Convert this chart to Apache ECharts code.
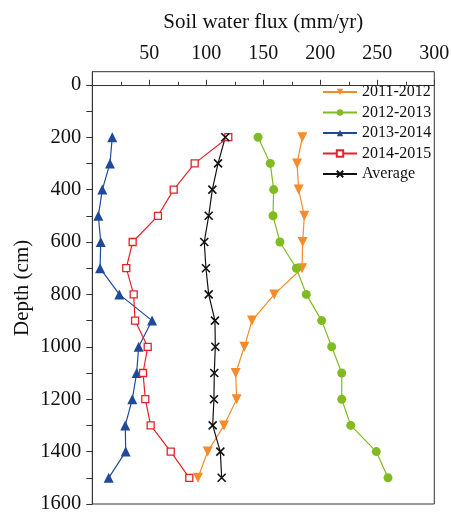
<!DOCTYPE html>
<html><head><meta charset="utf-8">
<script src="https://cdn.jsdelivr.net/npm/echarts@6/dist/echarts.min.js"></script>
<style>html,body{margin:0;padding:0;background:#fff}#c{width:451px;height:512px}</style>
</head><body><div id="c"></div>
<script>
const depths = [200,300,400,500,600,700,800,900,1000,1100,1200,1300,1400,1500];
const s2011 = [184.2,179.6,181.0,186.0,184.5,184.0,159.6,140.1,133.4,125.8,126.6,115.5,101.2,92.7];
const s2012 = [145.4,156.1,159.1,158.5,164.6,179.0,187.7,201.2,210.0,218.8,218.8,226.7,249.1,259.4];
const s2013 = [17.5,15.5,8.8,5.3,7.4,6.8,23.7,52.4,40.7,38.9,35.1,28.9,29.3,14.4];
const s2014 = [119.3,89.8,71.4,57.6,35.4,29.8,36.3,37.5,48.6,44.5,46.5,51.2,68.8,85.1];
const sAvg = [116.7,110.3,105.3,102.1,98.2,99.7,102.1,107.6,107.9,107.0,106.7,105.6,112.3,113.5];
const seriesNames = ['2011-2012','2012-2013','2013-2014','2014-2015','Average'];
const yTickValues = [0,100,200,300,400,500,600,700,800,900,1000,1100,1200,1300,1400,1500,1600];
const yLabelValues = [0,200,400,600,800,1000,1200,1400,1600];

const FONT = "'Liberation Serif','Times New Roman',serif";
const pair = arr => arr.map((v,i)=>[v, depths[i]]);
const crossPath = 'path://M0,0 L2,2 M2,0 L0,2';
const chart = echarts.init(document.getElementById('c'));
const mk = (name, data, color, symbol, size, extra) => Object.assign({
  name, type:'line', data: pair(data), symbol, symbolSize:size,
  lineStyle:{color, width:1.2}, itemStyle:{color}, z:3
}, extra||{});
chart.setOption({
  animation:false,
  textStyle:{fontFamily:FONT},
  grid:{left:92.3, right:16.7, top:71.7, bottom:8, show:true, borderColor:'#333', borderWidth:1,
    containLabel:false, outerBoundsMode:'none'},
  legend:{
    orient:'vertical', left:317, top:79, itemWidth:34, itemHeight:8, itemGap:4.5,
    textStyle:{fontFamily:FONT, fontSize:16, color:'#111'},
    data: seriesNames
  },
  xAxis:{
    type:'value', position:'top', min:0, max:300, interval:50,
    name:'Soil water flux (mm/yr)', nameLocation:'middle', nameGap:39, nameMoveOverlap:false,
    nameTextStyle:{fontFamily:FONT, fontSize:21, color:'#111'},
    axisLine:{show:true, lineStyle:{color:'#333', width:1}},
    axisTick:{show:true, length:5, lineStyle:{color:'#333'}},
    minorTick:{show:true, splitNumber:2, length:3, lineStyle:{color:'#333'}},
    splitLine:{show:false},
    axisLabel:{fontFamily:FONT, fontSize:20, color:'#111', margin:8,
      formatter: v => v === 0 ? '' : String(v)}
  },
  yAxis:{
    type:'value', inverse:true, min:-50, max:1600,
    name:'Depth (cm)', nameLocation:'middle', nameGap:59, nameMoveOverlap:false,
    nameTextStyle:{fontFamily:FONT, fontSize:21, color:'#111'},
    axisLine:{show:true, lineStyle:{color:'#333', width:1}},
    axisTick:{show:true, length:6, customValues:yTickValues, lineStyle:{color:'#333'}},
    splitLine:{show:false},
    axisLabel:{fontFamily:FONT, fontSize:20.5, color:'#111', margin:11, customValues:yLabelValues,
      formatter: v => String(v)}
  },
  series:[
    mk(seriesNames[0], s2011, '#F68B2A', 'triangle', 10, {symbolRotate:180}),
    mk(seriesNames[1], s2012, '#80BC21', 'circle', 9),
    mk(seriesNames[2], s2013, '#1F4A9A', 'triangle', 10),
    mk(seriesNames[3], s2014, '#E3232B', 'rect', 7, {itemStyle:{color:'#fff', borderColor:'#E3232B', borderWidth:1.3}}),
    mk(seriesNames[4], sAvg, '#111', crossPath, 8, {itemStyle:{color:'#111', borderColor:'#111', borderWidth:1.6}})
  ]
});
</script></body></html>
